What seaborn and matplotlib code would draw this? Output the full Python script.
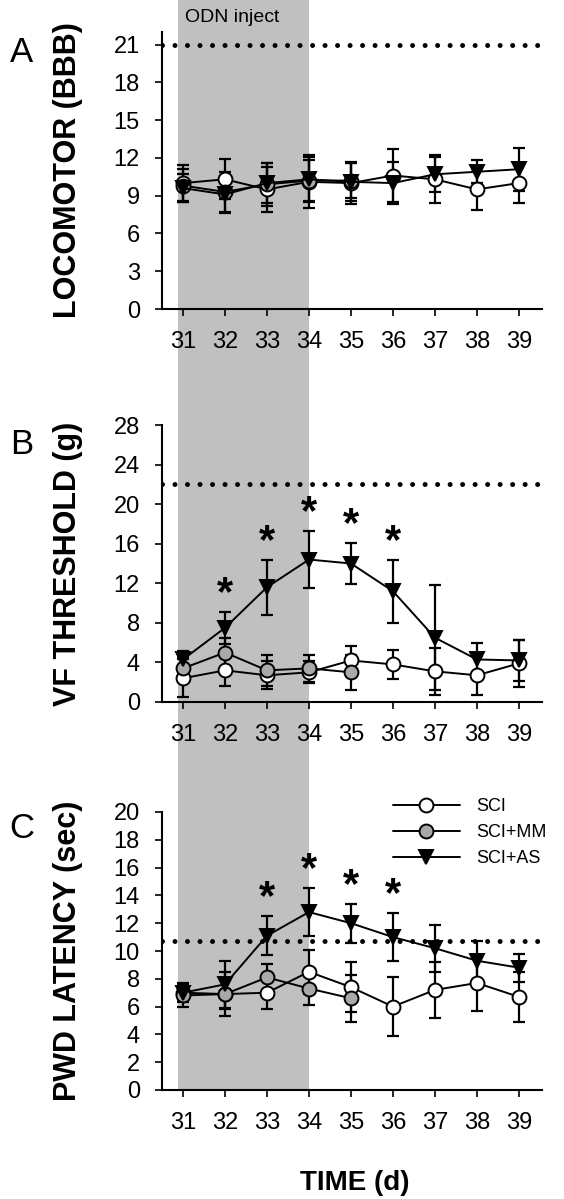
import matplotlib
matplotlib.use("Agg")
import matplotlib.pyplot as plt
import seaborn as sns
import pandas as pd
import numpy as np

sns.set_theme(style="white")
plt.rcParams["font.family"] = ["Liberation Sans", "DejaVu Sans"]
plt.rcParams.update({"text.color": "black", "axes.labelcolor": "black",
                     "xtick.color": "black", "ytick.color": "black"})

# ── data ───────────────────────────────────────────────────────────────────────
days = [31, 32, 33, 34, 35, 36, 37, 38, 39]
mm_days = [31, 32, 33, 34, 35]

loco_sci = [10.0, 10.3, 9.5, 10.1, 10.0, 10.6, 10.3, 9.5, 10.0]
loco_sci_err = [1.4, 1.6, 1.8, 2.1, 1.7, 2.1, 1.9, 1.6, 1.6]
loco_mm = [9.8, 9.3, 9.9, 10.2, 10.2]
loco_mm_err = [1.3, 1.6, 1.7, 1.6, 1.4]
loco_as = [9.6, 9.1, 10.0, 10.3, 10.1, 10.0, 10.7, 10.9, 11.1]
loco_as_err = [1.1, 1.5, 1.6, 1.8, 1.5, 1.7, 1.4, 0.9, 1.7]

vf_sci = [2.4, 3.2, 2.7, 3.0, 4.2, 3.8, 3.1, 2.7, 3.9]
vf_sci_err = [1.9, 1.6, 1.4, 1.1, 1.5, 1.5, 2.4, 2.0, 2.4]
vf_mm = [3.4, 5.0, 3.2, 3.4, 3.0]
vf_mm_err = [1.1, 1.5, 1.6, 1.4, 1.8]
vf_as = [4.3, 7.5, 11.6, 14.4, 14.0, 11.2, 6.5, 4.3, 4.2]
vf_as_err = [0.9, 1.6, 2.8, 2.9, 2.1, 3.2, 5.3, 1.7, 2.1]

pwd_sci = [7.0, 6.9, 7.0, 8.5, 7.4, 6.0, 7.2, 7.7, 6.7]
pwd_sci_err = [0.7, 1.6, 1.2, 1.6, 1.8, 2.1, 2.0, 2.0, 1.8]
pwd_mm = [6.8, 6.9, 8.1, 7.3, 6.6]
pwd_mm_err = [0.8, 1.1, 1.0, 1.2, 1.7]
pwd_as = [7.0, 7.6, 11.1, 12.8, 12.0, 11.0, 10.2, 9.3, 8.8]
pwd_as_err = [0.6, 1.7, 1.4, 1.7, 1.4, 1.7, 1.7, 1.4, 1.0]

vf_stars = [32, 33, 34, 35, 36]
pwd_stars = [33, 34, 35, 36]

normal_levels = {"A": 21, "B": 22, "C": 10.7}
inject_window = (30.88, 34.0)

# ── figure layout ─────────────────────────────────────────────────────────────
W, H = 564, 1199
fig = plt.figure(figsize=(W / 100, H / 100), dpi=100)
left, width = 162 / W, 380 / W
XLIM = (30.5, 39.55)


def box(top_px, bottom_px):
    return [left, 1 - bottom_px / H, width, (bottom_px - top_px) / H]


# shaded injection window across the whole figure
bg = fig.add_axes([left, 1 - 1090 / H, width, 1090 / H])
bg.set_xlim(XLIM)
bg.axvspan(*inject_window, color="#c0c0c0", lw=0)
bg.axis("off")
bg.set_zorder(0)
fig.text(185 / W, 1 - 18 / H, "ODN inject", fontsize=14, va="center", ha="left")

STYLE = {
    "SCI": dict(marker="o", markerfacecolor="white"),
    "SCI+MM": dict(marker="o", markerfacecolor="#a9a9a9"),
    "SCI+AS": dict(marker="v", markerfacecolor="black"),
}


def draw_panel(rect, series, ylim, yticks, ylabel, letter, letter_y, level, stars=None):
    ax = fig.add_axes(rect)
    ax.set_zorder(1)
    ax.set_facecolor("none")
    ax.axhline(level, color="black", lw=3.6, linestyle=(0, (0.001, 2.5)),
               dash_capstyle="round", zorder=1)
    for name, x, y, err in series:
        ax.errorbar(x, y, yerr=err, fmt="none", ecolor="black", elinewidth=1.6,
                    capsize=4, capthick=1.6, zorder=2)
        df = pd.DataFrame({"day": x, "val": y})
        sns.lineplot(data=df, x="day", y="val", ax=ax, color="black", lw=1.4,
                     markersize=10, markeredgecolor="black", markeredgewidth=1.4,
                     label=name, legend=False, zorder=3, **STYLE[name])
    if stars is not None:
        x, y, err = series[-1][1], series[-1][2], series[-1][3]
        for d, v, e in zip(x, y, err):
            if d in stars:
                ax.annotate("*", (d, v + e), xytext=(0, 5), textcoords="offset points",
                            ha="center", va="baseline", fontsize=30, fontweight="bold")
    ax.set_xlim(XLIM)
    ax.set_ylim(ylim)
    ax.set_xticks(days)
    ax.set_yticks(yticks)
    ax.tick_params(axis="both", labelsize=17, length=5, width=1.2, direction="out",
                   color="black", labelcolor="black", pad=11, bottom=True, left=True)
    for s in ["top", "right"]:
        ax.spines[s].set_visible(False)
    for s in ["left", "bottom"]:
        ax.spines[s].set_color("black")
        ax.spines[s].set_linewidth(1.5)
    ax.set_xlabel("")
    ax.set_ylabel(ylabel, fontsize=22, fontweight="bold")
    ax.yaxis.set_label_coords(-0.208, 0.5)
    fig.text(22 / W, 1 - letter_y / H, letter, fontsize=25, ha="center", va="center")
    return ax


draw_panel(box(32, 309),
           [("SCI", days, loco_sci, loco_sci_err),
            ("SCI+MM", mm_days, loco_mm, loco_mm_err),
            ("SCI+AS", days, loco_as, loco_as_err)],
           (0, 22), range(0, 22, 3), "LOCOMOTOR (BBB)", "A", 52, normal_levels["A"])

draw_panel(box(425, 702),
           [("SCI", days, vf_sci, vf_sci_err),
            ("SCI+MM", mm_days, vf_mm, vf_mm_err),
            ("SCI+AS", days, vf_as, vf_as_err)],
           (0, 28), range(0, 29, 4), "VF THRESHOLD (g)", "B", 445, normal_levels["B"],
           stars=vf_stars)

axC = draw_panel(box(812, 1090),
                 [("SCI", days, pwd_sci, pwd_sci_err),
                  ("SCI+MM", mm_days, pwd_mm, pwd_mm_err),
                  ("SCI+AS", days, pwd_as, pwd_as_err)],
                 (0, 20), range(0, 21, 2), "PWD LATENCY (sec)", "C", 828, normal_levels["C"],
                 stars=pwd_stars)

axC.legend(loc="upper left", bbox_to_anchor=(393 / W, 1 - 798 / H),
           bbox_transform=fig.transFigure, frameon=False, fontsize=13,
           handlelength=3.7, handletextpad=0.9, labelspacing=0.5,
           borderpad=0, borderaxespad=0)

fig.text(355 / W, 1 - 1183 / H, "TIME (d)", fontsize=20, fontweight="bold",
         ha="center", va="center")

fig.savefig("out.png", dpi=100)
